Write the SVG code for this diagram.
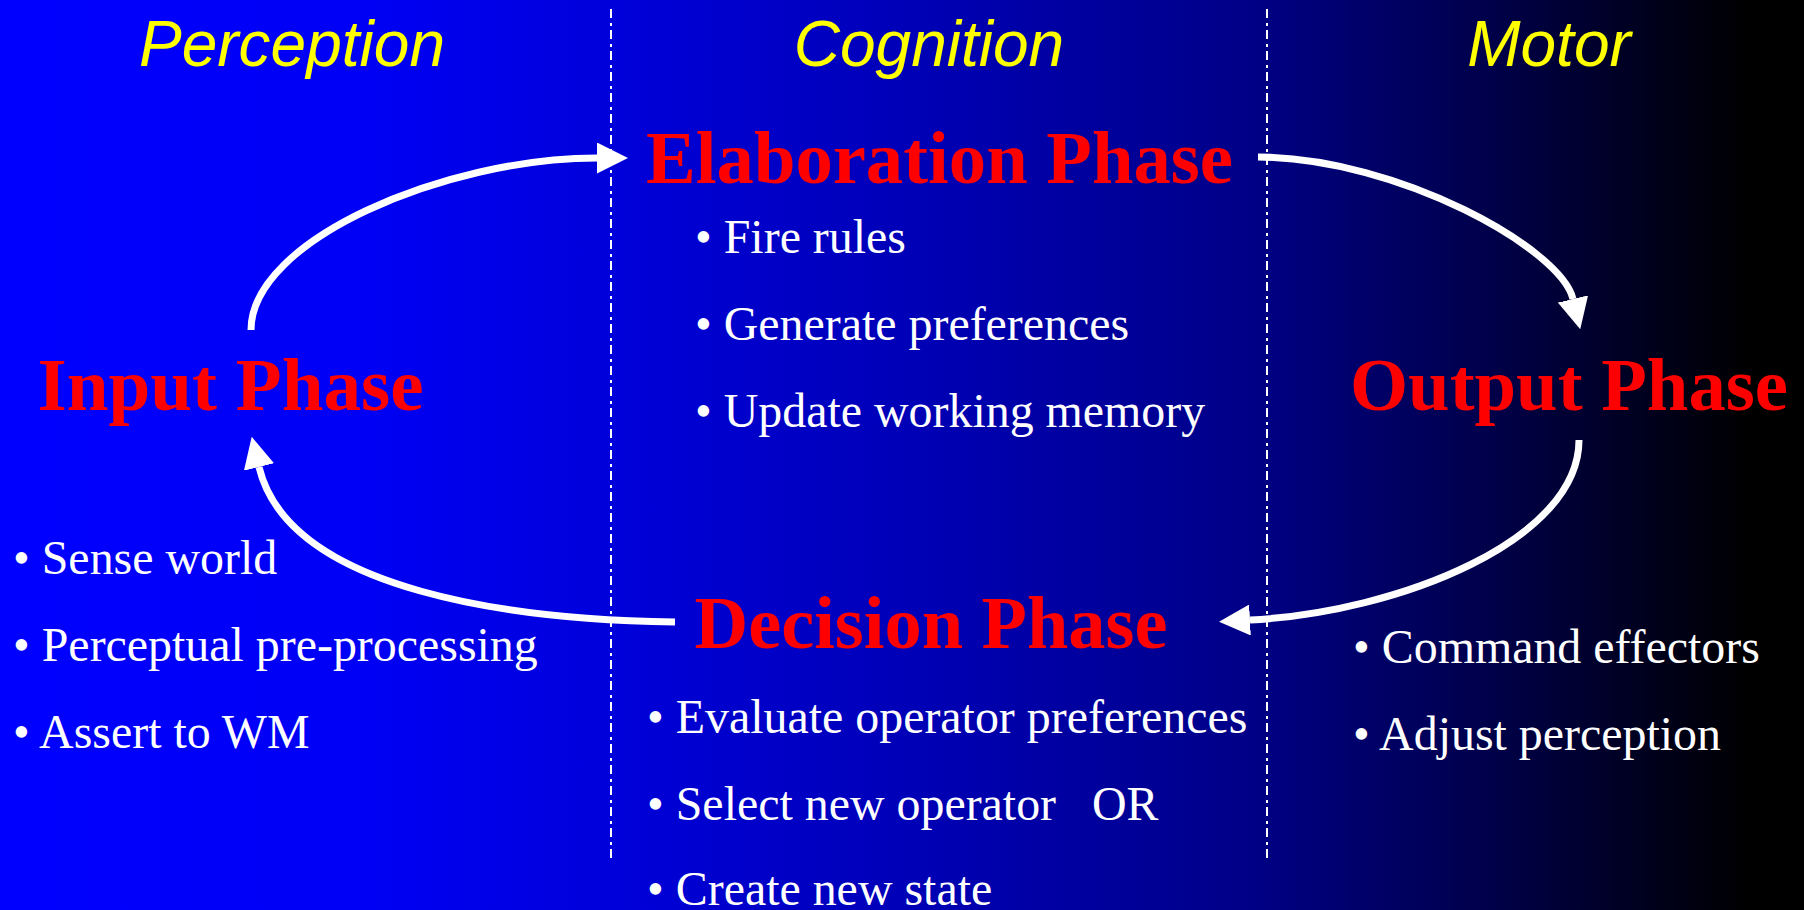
<svg xmlns="http://www.w3.org/2000/svg" width="1804" height="910" viewBox="0 0 1804 910">
  <defs>
    <linearGradient id="bg" x1="0" y1="0" x2="1804" y2="0" gradientUnits="userSpaceOnUse">
      <stop offset="0" stop-color="#0000FF"/>
      <stop offset="0.2" stop-color="#0000F5"/>
      <stop offset="0.33" stop-color="#0000DC"/>
      <stop offset="0.5" stop-color="#0000B8"/>
      <stop offset="0.69" stop-color="#000088"/>
      <stop offset="0.83" stop-color="#000048"/>
      <stop offset="0.92" stop-color="#00001A"/>
      <stop offset="0.97" stop-color="#000000"/>
      <stop offset="1" stop-color="#000000"/>
    </linearGradient>
    <marker id="head" markerUnits="userSpaceOnUse" viewBox="0 0 31 31" markerWidth="31" markerHeight="31" refX="0" refY="15.5" orient="auto">
      <path d="M0,0 L31,15.5 L0,31 Z" fill="#FFFFFF"/>
    </marker>
    <style>
      .hdr { font-family: "Liberation Sans", Arial, sans-serif; font-style: italic; font-size: 64px; fill: #FFFF00; text-anchor: middle; }
      .title { font-family: "Liberation Serif", "Times New Roman", serif; font-weight: bold; font-size: 75px; fill: #FF0000; }
      .item { font-family: "Liberation Serif", "Times New Roman", serif; font-size: 47.9px; fill: #FFFFFF; }
      .divider { stroke: #FFFFFF; stroke-width: 2; stroke-dasharray: 9 5 3 4; fill: none; }
      .conn { stroke: #FFFFFF; stroke-width: 7; fill: none; marker-end: url(#head); }
    </style>
  </defs>

  <rect x="0" y="0" width="1804" height="910" fill="url(#bg)"/>

  <g id="dividers">
    <line class="divider" x1="611" y1="9" x2="611" y2="859"/>
    <line class="divider" x1="1267" y1="9" x2="1267" y2="859"/>
  </g>

  <g id="headers">
    <text class="hdr" x="292" y="66">Perception</text>
    <text class="hdr" x="929" y="66">Cognition</text>
    <text class="hdr" x="1549" y="66">Motor</text>
  </g>

  <g id="connectors">
    <path class="conn" d="M251,330 C251,240 445,158 597,158"/>
    <path class="conn" d="M1258,157 C1400,158 1561,249 1573,299"/>
    <path class="conn" d="M1579,440 C1579,540 1400,612 1250,620"/>
    <path class="conn" d="M675,622 C520,620 289.5,593 259,467"/>
  </g>

  <g id="node-input">
    <text class="title" x="37.5" y="410" textLength="386" lengthAdjust="spacingAndGlyphs">Input Phase</text>
    <text class="item" x="13" y="574">• Sense world</text>
    <text class="item" x="13" y="661">• Perceptual pre-processing</text>
    <text class="item" x="13" y="748">• Assert to WM</text>
  </g>

  <g id="node-elaboration">
    <text class="title" x="646" y="183" textLength="587" lengthAdjust="spacingAndGlyphs">Elaboration Phase</text>
    <text class="item" x="695" y="253">• Fire rules</text>
    <text class="item" x="695" y="340">• Generate preferences</text>
    <text class="item" x="695" y="427">• Update working memory</text>
  </g>

  <g id="node-output">
    <text class="title" x="1350" y="410" textLength="438" lengthAdjust="spacingAndGlyphs">Output Phase</text>
    <text class="item" x="1353" y="663">• Command effectors</text>
    <text class="item" x="1353" y="750">• Adjust perception</text>
  </g>

  <g id="node-decision">
    <text class="title" x="694.5" y="648" textLength="473" lengthAdjust="spacingAndGlyphs">Decision Phase</text>
    <text class="item" x="647" y="733">• Evaluate operator preferences</text>
    <text class="item" x="647" y="820">• Select new operator<tspan x="1092">OR</tspan></text>
    <text class="item" x="647" y="905">• Create new state</text>
  </g>
</svg>
